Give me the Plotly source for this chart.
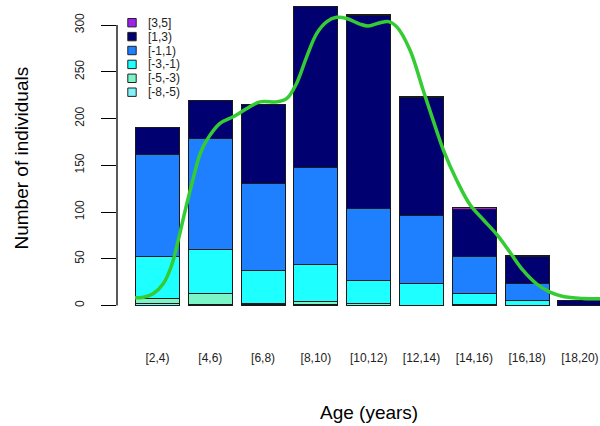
import plotly.graph_objects as go

# ---------------- data ----------------
age_classes = ["[2,4)", "[4,6)", "[6,8)", "[8,10)", "[10,12)",
               "[12,14)", "[14,16)", "[16,18)", "[18,20)"]

groups = ["[-8,-5)", "[-5,-3)", "[-3,-1)", "[-1,1)", "[1,3)", "[3,5]"]
group_colors = ["#80F2F8", "#7AF5C8", "#1EFFFF", "#1F80FF", "#000070", "#A020F0"]

n_m8_m5 = [2, 1, 1, 1, 0.5, 0, 1, 0, 0]
n_m5_m3 = [5, 12, 1, 3, 1.5, 0, 0, 0, 0]
n_m3_m1 = [45, 47, 35, 40, 25, 24, 12, 5, 0]
n_m1_p1 = [110, 119, 94, 104, 77, 72, 39, 19, 0]
n_p1_p3 = [28, 40, 84, 172, 206, 126, 51, 28, 5]
n_p3_p5 = [0, 0, 0, 0, 1, 2, 2, 2, 0]

series = [n_m8_m5, n_m5_m3, n_m3_m1, n_m1_p1, n_p1_p3, n_p3_p5]

# smooth trend curve (x in bar-axis units, y in individuals)
curve_x = [0.19, 0.38, 0.60, 0.83, 1.02, 1.17, 1.33, 1.48, 1.67, 1.82,
           2.12, 2.42, 2.73, 3.03, 3.41, 3.64, 3.86, 4.09, 4.32, 4.55,
           4.77, 5.00, 5.30, 5.49, 5.76, 5.95, 6.14, 6.44, 6.74, 7.05,
           7.20, 7.50, 7.80, 8.10, 8.41, 8.71, 9.01, 9.32, 9.62, 9.92,
           10.38, 10.76]
curve_y = [8.2, 8.9, 12.5, 23.2, 42.8, 69.6, 101.8, 130, 162.5, 176.8,
           194.7, 201.8, 210.7, 217.8, 217.8, 221.4, 237.5, 266, 291, 303.6,
           308.2, 307, 301, 299, 302.5, 303.6, 298, 273, 230, 186,
           166, 134, 108, 92, 76, 57, 37.5, 23, 14.3, 9.6,
           7.5, 7.2]

y_ticks = [0, 50, 100, 150, 200, 250, 300]

# ---------------- layout helpers ----------------
bar_width = 1.0
bar_space = 0.2
centers = [bar_space * (i + 1) + bar_width * i + bar_width / 2 for i in range(len(age_classes))]
x_left = centers[0] - bar_width / 2
x_right = centers[-1] + bar_width / 2

W, H = 600, 426
ml, mt, mb = 117, 0, 109
plot_w, plot_h = W - ml, H - mt - mb

FONT = "Liberation Sans, Arial, Helvetica, sans-serif"

fig = go.Figure()

for name, vals, col in zip(groups, series, group_colors):
    fig.add_trace(go.Bar(
        x=centers,
        y=[v if v else None for v in vals],
        width=bar_width,
        name=name,
        marker=dict(color=col, line=dict(color="#1a1a1a", width=1)),
        showlegend=False,
        hoverinfo="skip",
    ))

fig.add_trace(go.Scatter(
    x=curve_x, y=curve_y, mode="lines",
    line=dict(color="#33CC33", width=3.5, shape="spline", smoothing=1.0),
    showlegend=False, hoverinfo="skip",
))

shapes = []
annotations = []

# y-axis line spanning only the tick range
shapes.append(dict(type="line", xref="paper", yref="y", x0=0, x1=0,
                   y0=y_ticks[0], y1=y_ticks[-1],
                   line=dict(color="black", width=1.3)))

# custom compact legend (top to bottom: reversed stacking order)
leg_top_px, leg_step_px = 22.7, 13.9
sq_center_px, text_left_px = 132, 146
for k, (name, col) in enumerate(zip(groups[::-1], group_colors[::-1])):
    yc = leg_top_px + k * leg_step_px
    ypap = 1 - (yc - mt) / plot_h
    shapes.append(dict(type="rect", xref="paper", yref="paper",
                       xsizemode="pixel", ysizemode="pixel",
                       xanchor=(sq_center_px - ml) / plot_w, yanchor=ypap,
                       x0=-4.2, x1=4.2, y0=-4.2, y1=4.2,
                       fillcolor=col, line=dict(color="#222222", width=1)))
    annotations.append(dict(xref="paper", yref="paper",
                            x=(text_left_px - ml) / plot_w, y=ypap,
                            xanchor="left", yanchor="middle", showarrow=False,
                            text=name,
                            font=dict(size=12, color="#222222", family=FONT)))

# axis titles
annotations.append(dict(xref="x", yref="paper", x=(x_left + x_right) / 2,
                        y=-(412 - (mt + plot_h)) / plot_h,
                        text="Age (years)", showarrow=False,
                        xanchor="center", yanchor="middle",
                        font=dict(size=19, color="black", family=FONT)))
annotations.append(dict(xref="paper", yref="paper", x=(21 - ml) / plot_w, y=0.5,
                        text="Number of individuals", showarrow=False, textangle=-90,
                        xanchor="center", yanchor="middle",
                        font=dict(size=19, color="black", family=FONT)))

px_per_x = 44.0
x0_px = 126.7
px_per_y = 0.935
y0_px = 305.5

fig.update_layout(
    width=W, height=H,
    margin=dict(l=ml, r=0, t=mt, b=mb, pad=0),
    paper_bgcolor="white", plot_bgcolor="white",
    barmode="stack",
    shapes=shapes, annotations=annotations,
    font=dict(family=FONT, color="black"),
    xaxis=dict(range=[(ml - x0_px) / px_per_x, (W - x0_px) / px_per_x],
               tickvals=centers, ticktext=age_classes,
               showgrid=False, zeroline=False, showline=False, ticks="",
               tickfont=dict(size=12, color="#222222"),
               ticklabelstandoff=32, fixedrange=True),
    yaxis=dict(range=[(y0_px - (mt + plot_h)) / px_per_y, (y0_px - mt) / px_per_y],
               tickvals=y_ticks, ticks="outside", ticklen=15, tickwidth=1.3,
               tickcolor="black", tickangle=-90,
               showgrid=False, zeroline=False, showline=False,
               tickfont=dict(size=12, color="#222222"),
               ticklabelstandoff=12, fixedrange=True),
)

fig.write_html("out.html")
